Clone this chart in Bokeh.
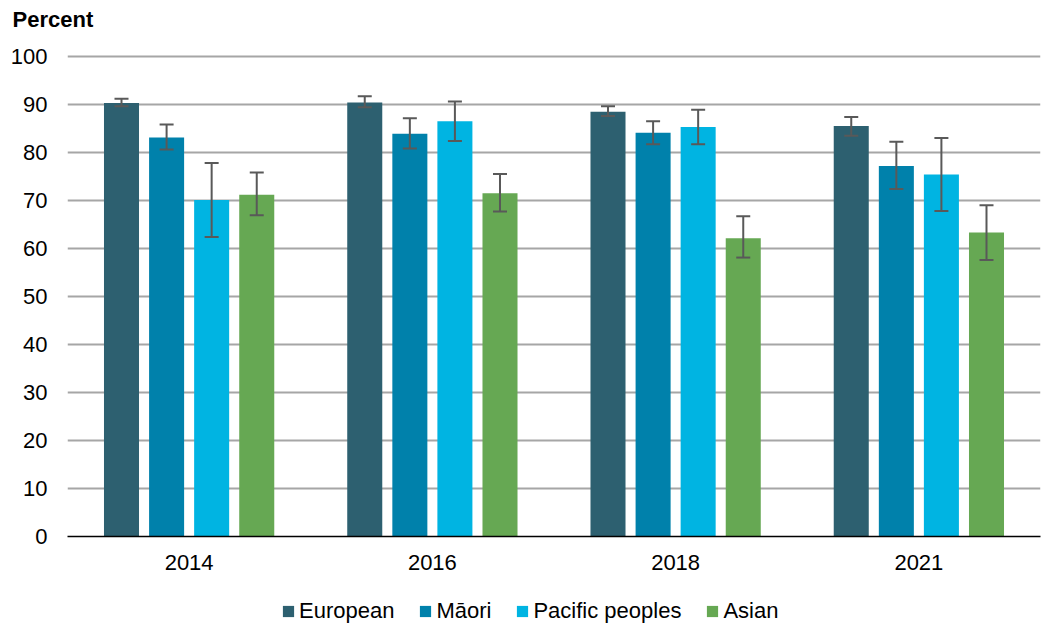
from bokeh.plotting import figure
from bokeh.layouts import column
from bokeh.models import ColumnDataSource, FactorRange, Whisker, TeeHead, Legend, LegendItem, Range1d, Title
from bokeh.transform import dodge
from bokeh.embed import file_html
from bokeh.resources import INLINE

years = ["2014", "2016", "2018", "2021"]
series = ["European", "Māori", "Pacific peoples", "Asian"]
colors = ["#2D6070", "#0081AB", "#00B4E2", "#66A853"]

european = [90.3, 90.4, 88.5, 85.5]
european_lo = [89.6, 89.4, 87.6, 83.5]
european_hi = [91.2, 91.7, 89.6, 87.4]

maori = [83.1, 83.9, 84.1, 77.2]
maori_lo = [80.6, 80.8, 81.7, 72.4]
maori_hi = [85.8, 87.1, 86.5, 82.2]

pacific = [70.1, 86.5, 85.3, 75.4]
pacific_lo = [62.4, 82.4, 81.7, 67.8]
pacific_hi = [77.8, 90.6, 88.9, 83.0]

asian = [71.2, 71.5, 62.1, 63.3]
asian_lo = [66.9, 67.7, 58.1, 57.6]
asian_hi = [75.8, 75.5, 66.7, 69.0]

values = [european, maori, pacific, asian]
lows = [european_lo, maori_lo, pacific_lo, asian_lo]
highs = [european_hi, maori_hi, pacific_hi, asian_hi]

p = figure(x_range=FactorRange(*years, range_padding=0), y_range=Range1d(0, 100.4),
           width=1043, height=582, output_backend="svg", toolbar_location=None,
           min_border_left=67, min_border_right=3, min_border_top=54, min_border_bottom=46)
p.outline_line_color = None

# "Percent" heading (outermost), with a small spacer title between it and the frame
p.title.text = "Percent"
p.title.text_font = "Liberation Sans"
p.title.text_font_size = "22px"
p.title.text_font_style = "bold"
p.title.text_color = "#000000"
p.title.align = "left"
p.title.offset = -55
p.title.standoff = 10
p.title.vertical_align = "top"
spacer = Title(text=" ", text_font_size="1px", standoff=13)
p.add_layout(spacer, "above")

offsets = [-0.278, -0.0926, 0.0926, 0.278]
bw = 0.144
for name, col, vals, lo, hi, off in zip(series, colors, values, lows, highs, offsets):
    src = ColumnDataSource(dict(year=years, v=vals, lo=lo, hi=hi))
    p.vbar(x=dodge("year", off, range=p.x_range), top="v", width=bw, source=src,
           fill_color=col, line_color=None)
    w = Whisker(base=dodge("year", off, range=p.x_range), lower="lo", upper="hi", source=src,
                line_color="#595959", line_width=2, level="annotation",
                upper_head=TeeHead(size=14, line_color="#595959", line_width=2),
                lower_head=TeeHead(size=14, line_color="#595959", line_width=2))
    p.add_layout(w)

p.yaxis.ticker = list(range(0, 101, 10))
p.yaxis.axis_line_color = None
p.yaxis.major_tick_line_color = None
p.yaxis.minor_tick_line_color = None
p.yaxis.major_label_text_font = "Liberation Sans"
p.yaxis.major_label_text_font_size = "22px"
p.yaxis.major_label_text_color = "#000000"
p.yaxis.major_label_standoff = 14

p.xaxis.axis_line_color = "#000000"
p.xaxis.axis_line_width = 1.5
p.xaxis.major_tick_line_color = None
p.xaxis.minor_tick_line_color = None
p.xaxis.major_label_text_font = "Liberation Sans"
p.xaxis.major_label_text_font_size = "22px"
p.xaxis.major_label_text_color = "#000000"
p.xaxis.major_label_standoff = 12

p.xgrid.grid_line_color = None
p.ygrid.grid_line_color = "#A6A6A6"
p.ygrid.grid_line_width = 2

# legend strip (swatch renderers sit outside the visible range; only the legend shows)
lg = figure(width=1043, height=45, output_backend="svg", toolbar_location=None,
            min_border=0, x_range=Range1d(0, 1), y_range=Range1d(0, 1),
            x_axis_type=None, y_axis_type=None)
lg.grid.visible = False
lg.outline_line_color = None
items = []
for name, col in zip(series, colors):
    src = ColumnDataSource(dict(x=[0.5], top=[-5.0], bottom=[-6.0]))
    r = lg.vbar(x="x", top="top", bottom="bottom", width=0.1, source=src,
                fill_color=col, line_color=None)
    items.append(LegendItem(label=name, renderers=[r]))
legend = Legend(items=items, orientation="horizontal", location=(214, 3),
                glyph_width=14, glyph_height=14, label_text_font="Liberation Sans",
                label_text_font_size="22px", label_text_color="#000000",
                spacing=24, label_standoff=4, border_line_color=None,
                background_fill_alpha=0, padding=0, margin=0)
lg.add_layout(legend)

layout = column(p, lg, spacing=0)
open("out.html", "w").write(file_html(layout, INLINE))
